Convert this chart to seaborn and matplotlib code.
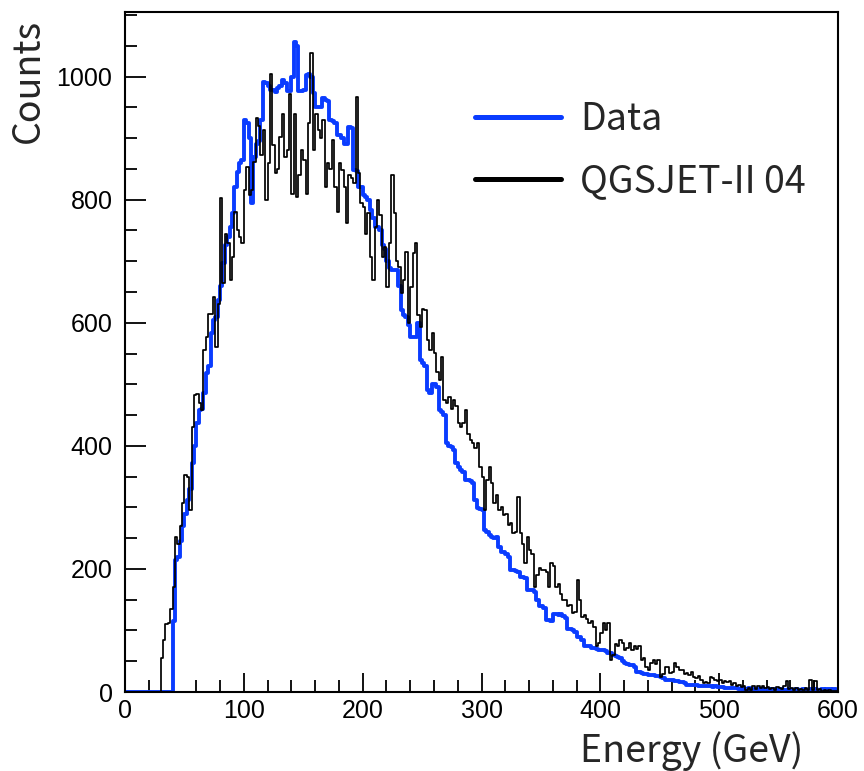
import numpy as np
import pandas as pd
import matplotlib
matplotlib.use("Agg")
import matplotlib.pyplot as plt
import seaborn as sns
from matplotlib.lines import Line2D
from matplotlib.ticker import MultipleLocator

# ---------------- data (2 GeV bins, 0..600 GeV) ----------------
x_min, x_max, bin_width = 0, 600, 2

data_counts = [
    0, 0, 0, 0, 0, 0, 0, 0, 0, 0, 0, 0, 0, 0, 0, 0, 0, 0, 0, 0,            # 0-40
    115, 215, 220, 245, 270, 290, 312, 330, 372, 400,                    # 40-60
    437, 458, 460, 486, 518, 530, 583, 604, 610, 637,                    # 60-80
    660, 697, 726, 740, 755, 778, 820, 845, 860, 865,                    # 80-100
    929, 925, 900, 794, 870, 890, 895, 930, 992, 990,                    # 100-120
    985, 978, 978, 975, 981, 985, 994, 990, 976, 976,                    # 120-140
    1000, 1056, 1050, 976, 976, 978, 1002, 1005, 1000, 973,              # 140-160
    950, 951, 950, 965, 962, 960, 930, 928, 925, 905,                    # 160-180
    905, 900, 890, 890, 918, 916, 848, 846, 821, 820,                    # 180-200
    807, 805, 800, 783, 770, 756, 756, 750, 726, 720,                    # 200-220
    700, 689, 686, 686, 686, 660, 621, 612, 610, 596,                    # 220-240
    577, 577, 577, 600, 540, 535, 530, 490, 486, 500,                    # 240-260
    500, 496, 458, 455, 450, 404, 400, 398, 393, 372,                    # 260-280
    365, 361, 358, 345, 344, 343, 340, 312, 299, 298,                    # 280-300
    295, 263, 260, 255, 252, 250, 252, 235, 227, 227,                    # 300-320
    225, 220, 198, 198, 196, 195, 187, 187, 185, 166,                    # 320-340
    166, 165, 162, 150, 139, 139, 137, 117, 117, 116,                    # 340-360
    127, 127, 125, 127, 124, 120, 102, 102, 100, 98,                     # 360-380
    90, 90, 85, 74, 74, 74, 72, 72, 70, 68,                              # 380-400
    68, 68, 66, 64, 63, 60, 58, 57, 55, 50,                              # 400-420
    47, 45, 44, 44, 40, 32, 32, 31, 30, 30,                              # 420-440
    28, 28, 27, 26, 26, 25, 22, 20, 20, 20,                              # 440-460
    19, 18, 18, 17, 16, 15, 12, 12, 11, 11,                              # 460-480
    11, 10, 10, 10, 9, 9, 9, 8, 9, 8,                                    # 480-500
    8, 8, 7, 7, 7, 6, 6, 6, 5, 6,                                        # 500-520
    5, 5, 6, 5, 5, 4, 5, 5, 4, 5,                                        # 520-540
    5, 4, 5, 5, 4, 4, 5, 4, 4, 5,                                        # 540-560
    4, 4, 5, 4, 4, 5, 4, 4, 5, 4,                                        # 560-580
    5, 4, 4, 5, 4, 5, 5, 4, 5, 4,                                        # 580-600
]

qgsjet_counts = [
    0, 0, 0, 0, 0, 0, 0, 0, 0, 0, 0, 0, 0, 0, 0,                          # 0-30
    55, 85, 110, 112, 135,                                               # 30-40
    170, 252, 240, 270, 307, 352, 350, 296, 431, 483,                    # 40-60
    485, 470, 458, 555, 577, 615, 615, 642, 561, 630,                    # 60-80
    802, 665, 745, 730, 669, 707, 780, 750, 739, 729,                    # 80-100
    815, 853, 807, 815, 862, 933, 920, 872, 913, 800,                    # 100-120
    860, 1005, 889, 843, 850, 902, 940, 870, 880, 972,                   # 120-140
    810, 940, 805, 840, 880, 864, 810, 924, 1038, 880,                   # 140-160
    940, 913, 900, 929, 821, 859, 850, 897, 820, 780,                    # 160-180
    859, 848, 820, 762, 840, 835, 827, 967, 843, 794,                    # 180-200
    788, 745, 778, 707, 669, 756, 799, 775, 707, 723,                    # 200-220
    658, 729, 840, 778, 700, 691, 648, 669, 715, 599,                    # 220-240
    658, 713, 729, 612, 593, 623, 620, 572, 555, 583,                    # 240-260
    551, 520, 507, 545, 474, 469, 480, 460, 474, 465,                    # 260-280
    437, 431, 437, 458, 420, 409, 404, 396, 404, 366,                    # 280-300
    350, 296, 344, 366, 340, 307, 320, 296, 300, 288,                    # 300-320
    290, 271, 275, 258, 260, 317, 258, 240, 209, 252,                    # 320-340
    231, 225, 171, 190, 201, 198, 198, 195, 171, 209,                    # 340-360
    205, 171, 175, 160, 149, 150, 139, 141, 128, 130,                    # 360-380
    182, 150, 122, 125, 118, 112, 115, 105, 74, 80,                      # 380-400
    96, 112, 100, 112, 52, 60, 78, 74, 84, 80,                           # 400-420
    68, 72, 80, 68, 74, 70, 74, 52, 55, 41,                              # 420-440
    36, 47, 52, 45, 52, 25, 30, 41, 41, 31,                              # 440-460
    33, 47, 40, 36, 36, 30, 31, 28, 33, 25,                              # 460-480
    23, 26, 20, 15, 17, 14, 25, 22, 20, 18,                              # 480-500
    20, 14, 18, 16, 18, 12, 15, 9, 11, 8,                                # 500-520
    9, 4, 6, 4, 9, 5, 9, 6, 10, 6,                                       # 520-540
    8, 5, 7, 4, 8, 6, 5, 9, 18, 5,                                       # 540-560
    6, 3, 7, 3, 5, 4, 6, 3, 20, 4,                                       # 560-580
    18, 3, 5, 2, 4, 2, 3, 1, 2, 1,                                       # 580-600
]

series_labels = ["Data", "QGSJET-II 04"]
x_ticks = [0, 100, 200, 300, 400, 500, 600]
y_ticks = [0, 200, 400, 600, 800, 1000]
x_title = "Energy (GeV)"
y_title = "Counts"

# ---------------- figure ----------------
sns.set_theme(style="white")
plt.rcParams["font.family"] = ["Liberation Sans", "DejaVu Sans"]

n_bins = len(data_counts)
centers = x_min + bin_width * (np.arange(n_bins) + 0.5)
df = pd.DataFrame({"energy": centers,
                   "data": np.asarray(data_counts, dtype=float),
                   "qgsjet": np.asarray(qgsjet_counts, dtype=float)})

fig = plt.figure(figsize=(8.64, 7.71), dpi=100)
ax = fig.add_axes([125 / 864, 1 - 692 / 771, 713 / 864, 680 / 771])

blue = "#0a3cff"
sns.histplot(data=df, x="energy", weights="data", binwidth=bin_width,
             binrange=(x_min, x_max), element="step",
             fill=False, color=blue, linewidth=2.8, ax=ax)
sns.histplot(data=df, x="energy", weights="qgsjet", binwidth=bin_width,
             binrange=(x_min, x_max), element="step",
             fill=False, color="black", linewidth=1.25, ax=ax)

ax.set_xlim(x_min, x_max)
ax.set_ylim(0, 1105)
ax.set_xticks(x_ticks)
ax.set_yticks(y_ticks)
ax.xaxis.set_minor_locator(MultipleLocator(20))
ax.yaxis.set_minor_locator(MultipleLocator(50))
ax.tick_params(axis="both", which="both", direction="in", colors="black",
               labelsize=18, width=1.3, bottom=True, left=True,
               top=False, right=False)
ax.tick_params(axis="y", which="major", length=15, pad=9)
ax.tick_params(axis="y", which="minor", length=8.5)
ax.tick_params(axis="x", which="major", length=14, pad=5)
ax.tick_params(axis="x", which="minor", length=8.5)
for s in ax.spines.values():
    s.set_color("black")
    s.set_linewidth(1.5)

title_font = ["Noto Sans CJK KR", "DejaVu Sans"]
ax.set_xlabel(x_title, fontsize=27, family=title_font, fontweight="light",
              loc="right")
ax.set_ylabel(y_title, fontsize=27, family=title_font, fontweight="light",
              loc="top")
ax.xaxis.set_label_coords(0.952, -0.058)
ax.yaxis.set_label_coords(-0.108, 0.99)

handles = [Line2D([], [], color=blue, linewidth=3.6),
           Line2D([], [], color="black", linewidth=3.6)]
leg = ax.legend(handles, series_labels, loc="upper left",
                bbox_to_anchor=((475 - 125) / 713, (692 - 100) / 680),
                frameon=False, handlelength=2.3, handletextpad=0.5,
                labelspacing=0.62, borderpad=0, borderaxespad=0,
                prop={"family": title_font, "size": 27, "weight": "light"})

fig.savefig("out.png", dpi=100, facecolor="white")
